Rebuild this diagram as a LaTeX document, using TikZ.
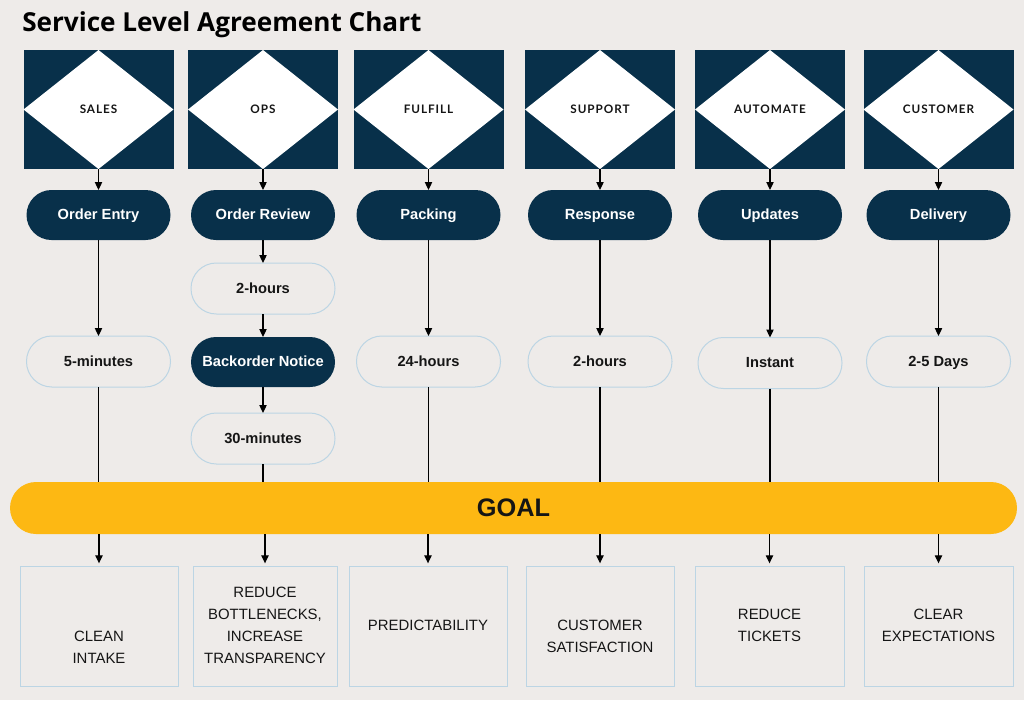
\documentclass[tikz,border=0pt]{standalone}
\usepackage{fontspec}
\setmainfont{Liberation Sans}
\newfontfamily\titlefont{Open Sans}
\newfontfamily\tagfont[LetterSpace=8]{Lato}
\usetikzlibrary{arrows.meta}
\definecolor{bg}{HTML}{EEEBE9}
\definecolor{navy}{HTML}{08304A}
\definecolor{edge}{HTML}{BCD5E4}
\definecolor{gold}{HTML}{FDB813}
\definecolor{ink}{HTML}{151515}
\begin{document}
\begin{tikzpicture}[x=0.75pt,y=-0.75pt,
  sq/.style={fill=navy, minimum width=112.5pt, minimum height=89.25pt, inner sep=0pt, outer sep=0pt},
  tag/.style={text=ink, font=\tagfont\bfseries\fontsize{8.8}{10}\selectfont, inner sep=0pt},
  dk/.style={fill=navy, text=white, font=\bfseries\fontsize{11}{13}\selectfont, text height=9.2pt, text depth=2.4pt, minimum width=108pt, minimum height=37.5pt, rounded corners=18.75pt, inner sep=0pt, outer sep=0pt},
  lt/.style={draw=edge, line width=0.75pt, fill=bg, text=ink, font=\bfseries\fontsize{11}{13}\selectfont, text height=9.2pt, text depth=2.4pt, minimum width=108pt, minimum height=38.25pt, rounded corners=19pt, inner sep=0pt, outer sep=0pt},
  goalbar/.style={fill=gold, text=ink, font=\bfseries\fontsize{19}{22}\selectfont, minimum width=755.25pt, minimum height=39pt, rounded corners=19.5pt, inner sep=0pt, outer sep=0pt},
  box/.style={draw=edge, line width=0.75pt, minimum height=90pt, inner sep=0pt, outer sep=0pt},
  btxt/.style={text=ink, font=\fontsize{11.2}{16.5}\selectfont, align=center, inner sep=0pt},
  arr/.style={-{Triangle[width=5.5pt,length=6pt]}, line width=0.9pt, black},
  ln/.style={line width=0.9pt, black}]
\fill[bg] (0,0) rectangle (1024,700);
\useasboundingbox (0,0) rectangle (1024,700);

\node[anchor=base west, font=\titlefont\bfseries\fontsize{19.6}{22}\selectfont, text=black, inner sep=0pt] (title) at (22,31) {Service Level Agreement Chart};

\foreach \i/\x/\d/\p in {1/98.5/SALES/Order Entry, 2/263/OPS/Order Review, 3/428.5/FULFILL/Packing, 4/600/SUPPORT/Response, 5/770/AUTOMATE/Updates, 6/938.5/CUSTOMER/Delivery}{
  \node[sq] (s\i) at (\x,109.5) {};
  \fill[white] (s\i.north) -- (s\i.east) -- (s\i.south) -- (s\i.west) -- cycle;
  \node[tag] (d\i) at (s\i) {\d};
  \node[dk] (p\i) at (\x,215) {\p};
  \draw[arr] (s\i.south) -- (p\i.north);
}

\node[lt] (m1) at (98.5,361.5) {5-minutes};
\node[lt] (h2) at (263,288.5) {2-hours};
\node[dk] (b2) at (263,362) {Backorder Notice};
\node[lt] (m2) at (263,438.5) {30-minutes};
\node[lt] (m3) at (428.5,361.5) {24-hours};
\node[lt] (m4) at (600,361.5) {2-hours};
\node[lt] (m5) at (770,363) {Instant};
\node[lt] (m6) at (938.5,361.5) {2-5 Days};

\draw[arr] (p1.south) -- (m1.north);
\draw[arr] (p2.south) -- (h2.north);
\draw[arr] (h2.south) -- (b2.north);
\draw[arr] (b2.south) -- (m2.north);
\draw[arr] (p3.south) -- (m3.north);
\draw[arr] (p4.south) -- (m4.north);
\draw[arr] (p5.south) -- (m5.north);
\draw[arr] (p6.south) -- (m6.north);

\node[goalbar] (goal) at (513.5,508) {GOAL};

\foreach \i in {1,...,6}{
  \draw[ln] (m\i.south) -- (m\i.south |- goal.north);
}

\node[box, minimum width=118.5pt] (g1) at (99,626) {};
\node[box, minimum width=108pt] (g2) at (265,626) {};
\node[box, minimum width=118.5pt] (g3) at (428,626) {};
\node[box, minimum width=111pt] (g4) at (600,626) {};
\node[box, minimum width=111.75pt] (g5) at (769.5,626) {};
\node[box, minimum width=111.75pt] (g6) at (938.5,626) {};

\foreach \i in {1,...,6}{
  \draw[arr, shorten >=2pt] (g\i.north |- goal.south) -- (g\i.north);
}

\node[btxt] (t1) at (99,647) {CLEAN\\INTAKE};
\node[btxt] (t2) at (265,625) {REDUCE\\BOTTLENECKS,\\INCREASE\\TRANSPARENCY};
\node[btxt] (t3) at (428,625) {PREDICTABILITY};
\node[btxt] (t4) at (600,636) {CUSTOMER\\SATISFACTION};
\node[btxt] (t5) at (769.5,625) {REDUCE\\TICKETS};
\node[btxt] (t6) at (938.5,625) {CLEAR\\EXPECTATIONS};
\end{tikzpicture}
\end{document}
